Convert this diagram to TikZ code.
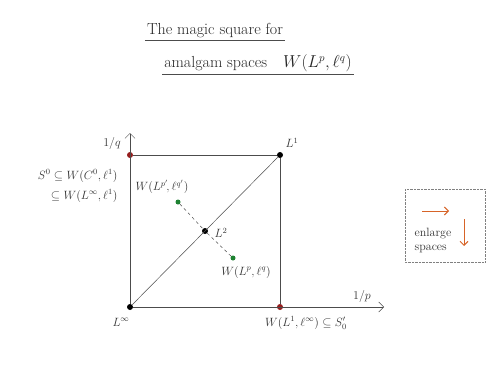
\documentclass[tikz,border=0pt]{standalone}
\usepackage{amsmath,amssymb}
\usepackage{tikz}
\usetikzlibrary{arrows.meta,positioning,calc}
\definecolor{dotred}{RGB}{150,30,30}
\definecolor{dotgreen}{RGB}{30,130,50}
\definecolor{arrorange}{RGB}{215,100,40}
\tikzset{
  dot/.style={circle,fill=#1,inner sep=0pt,minimum size=6pt},
  lbl/.style={font=\large,text=black!80},
  ttl/.style={font=\fontsize{16}{19}\selectfont,text=black!85,inner sep=2pt},
  edge/.style={black!70,line width=0.5pt},
}
\begin{document}
\begin{tikzpicture}[x=1pt,y=-1pt]
  \useasboundingbox[fill=white] (0,0) rectangle (495,367);
  % title
  \node[ttl] (t1) at (215,31) {The magic square for};
  \node[ttl] (t2) at (258,63) {amalgam spaces\quad $W(L^p,\ell^q)$};
  \draw[edge] (t1.south west) -- (t1.south east);
  \draw[edge] (t2.south west) -- (t2.south east);
  % corners
  \node[dot=black] (linf) at (130,307) {};
  \node[dot=dotred] (tl) at (130,155) {};
  \node[dot=black] (lone) at (280,155) {};
  \node[dot=dotred] (br) at (280,307) {};
  \node[dot=black] (ltwo) at (205,231) {};
  \node[dot=dotgreen,minimum size=5pt] (gp) at (178,202) {};
  \node[dot=dotgreen,minimum size=5pt] (gq) at (233,258) {};
  \coordinate (xend) at (384,307);
  \coordinate (yend) at (130,133);
  % axes and square
  \draw[edge,-{Straight Barb[length=5pt]}] (linf) -- (xend);
  \draw[edge,-{Straight Barb[length=5pt]}] (linf) -- (yend);
  \draw[edge] (tl) -- (lone) -- (br);
  \draw[edge] (linf) -- (lone);
  \draw[edge,dashed] (gp) -- (ltwo) -- (gq);
  % labels
  \node[lbl] (q) at (112,143) {$1/q$};
  \node[lbl] (p) at (362,296) {$1/p$};
  \node[lbl] at (292,143) {$L^1$};
  \node[lbl] at (221,233) {$L^2$};
  \node[lbl] at (121,322) {$L^\infty$};
  \node[lbl] at (306,323) {$W(L^1,\ell^\infty)\subseteq S_0'$};
  \node[lbl] at (162,187) {$W(L^{p'}\!,\ell^{q'})$};
  \node[lbl] at (246,272) {$W(L^p,\ell^q)$};
  \node[lbl,anchor=east] (s0) at (121,176) {$S^0\subseteq W(C^0,\ell^1)$};
  \node[lbl,anchor=east] at (121,196) {$\subseteq W(L^\infty,\ell^1)$};
  % legend box
  \draw[black!50,densely dotted] (405,189) rectangle (485,262);
  \coordinate (ra) at (422,211);
  \coordinate (rb) at (449,211);
  \coordinate (da) at (464,219);
  \coordinate (db) at (464,246);
  \draw[arrorange,line width=1pt,-{Straight Barb[length=4pt]}] (ra) -- (rb);
  \draw[arrorange,line width=1pt,-{Straight Barb[length=4pt]}] (da) -- (db);
  \node[font=\large,text=black!80,align=left] at (433,240) {enlarge\\spaces};
\end{tikzpicture}
\end{document}
